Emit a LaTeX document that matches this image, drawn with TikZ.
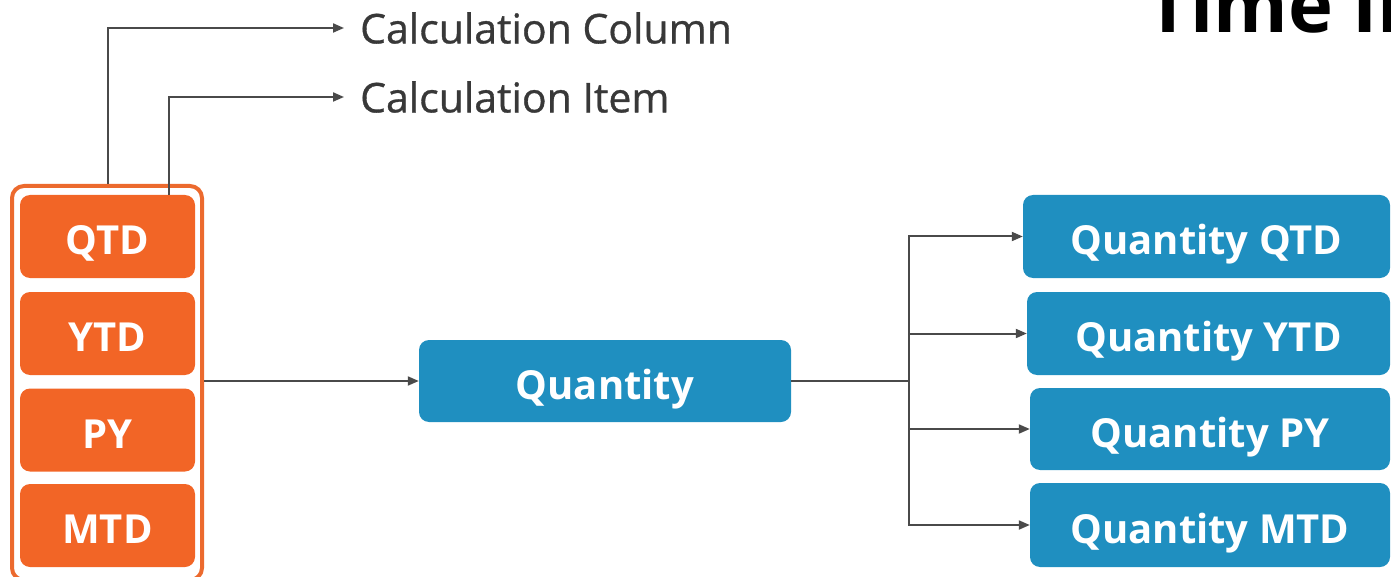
\documentclass[tikz,border=0pt]{standalone}
\usepackage{fontspec}
\setmainfont{Open Sans}
\newfontfamily\lblfont{Open Sans}[FakeBold=0.8]
\usetikzlibrary{arrows.meta}
\definecolor{orng}{HTML}{F26526}
\definecolor{orngline}{HTML}{EC6A2E}
\definecolor{blu}{HTML}{1F8FC0}
\definecolor{lnc}{HTML}{4A4A4A}
\definecolor{txtc}{HTML}{383838}
\begin{document}
\begin{tikzpicture}[x=1pt,y=-1pt,
  boxfont/.style={font=\fontsize{40}{44}\selectfont\bfseries, text height=36pt, text depth=0pt},
  obox/.style={fill=orng, rounded corners=10pt, minimum width=175pt, minimum height=83pt, text=white, boxfont, inner sep=0pt},
  bbox/.style={fill=blu, rounded corners=10pt, minimum height=83pt, text=white, boxfont, inner sep=0pt},
  conn/.style={draw=lnc, line width=2pt, -{Triangle[length=11pt,width=9pt]}},
  plainline/.style={draw=lnc, line width=2.5pt},
  lbl/.style={text=txtc, font=\lblfont\fontsize{41}{45}\selectfont, inner sep=0pt, anchor=west}]
\useasboundingbox (0,0) rectangle (1391,577);
\clip (0,0) rectangle (1391,577);
% title (cut off by the picture edge, as in the reference)
\node[anchor=base west, font=\fontsize{76}{80}\selectfont\bfseries, inner sep=0pt, text=black] (title) at (1146,33) {Time Intelligence};
% orange frame and items
\node[draw=orngline, line width=4pt, rounded corners=12pt, minimum width=190pt, minimum height=394pt, inner sep=0pt] (frame) at (107,383) {};
\node[obox] (qtd) at (107.5,236.5) {QTD};
\node[obox] (ytd) at (107.5,333.5) {YTD};
\node[obox] (py)  at (107.5,430) {PY};
\node[obox] (mtd) at (107.5,525.5) {MTD};
% labels
\node[lbl] (ccol) at (360,28) {Calculation Column};
\node[lbl] (citem) at (360,97) {Calculation Item};
\draw[conn] ([xshift=1pt]frame.north) |- ([xshift=-16pt]ccol.west);
\draw[conn] ([xshift=149pt]qtd.north west) |- ([xshift=-16pt]citem.west);
% quantity
\node[bbox, minimum width=372pt, minimum height=82pt] (qty) at (605,381) {Quantity};
\draw[conn] (frame.east |- qty.west) -- (qty.west);
% outputs
\node[bbox, minimum width=367pt] (q1) at (1206.5,236.5) {Quantity QTD};
\node[bbox, minimum width=363pt] (q2) at (1208.5,333.5) {Quantity YTD};
\node[bbox, minimum width=360pt, minimum height=82pt] (q3) at (1210,429) {Quantity PY};
\node[bbox, minimum width=360pt, minimum height=84pt] (q4) at (1210,525) {Quantity MTD};
\coordinate (br) at (909,381);
\draw[plainline] (qty.east) -- (br);
\draw[conn] (br) |- (q1.west);
\draw[conn] (br) |- (q2.west);
\draw[conn] (br) |- (q3.west);
\draw[conn] (br) |- (q4.west);
\end{tikzpicture}
\end{document}
